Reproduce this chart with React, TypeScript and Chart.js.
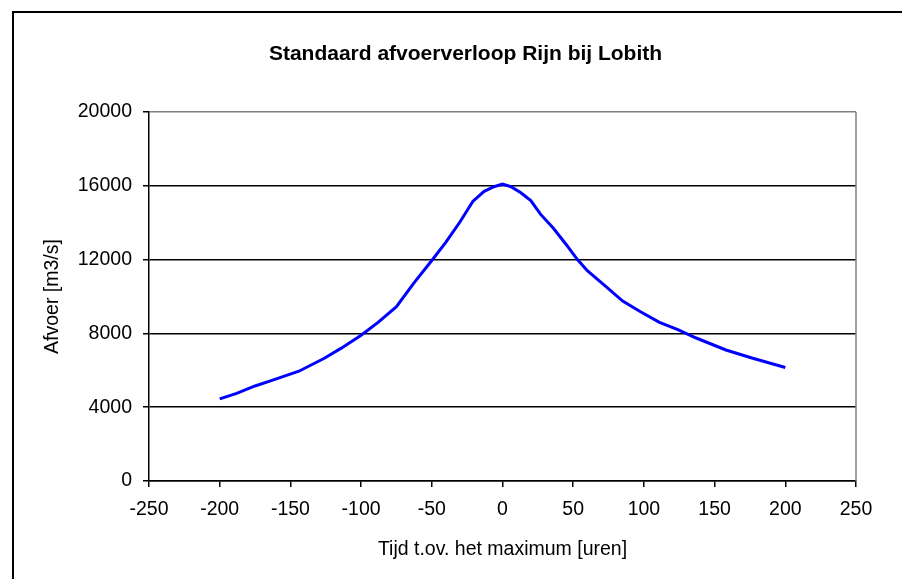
import React, { useEffect, useRef } from "react";
import { Chart, registerables } from "chart.js";

Chart.register(...registerables);

const chartTitle = "Standaard afvoerverloop Rijn bij Lobith";
const xAxisTitle = "Tijd t.ov. het maximum [uren]";
const yAxisTitle = "Afvoer [m3/s]";

// hours relative to the peak
const hours = [
  -200, -188, -175, -162, -144, -126, -114, -100, -88, -75, -63, -50, -40, -30,
  -21, -13, -6, 0, 6, 13, 20, 27, 36, 45, 53, 60, 73, 85, 97, 111, 124, 137,
  158, 177, 200,
];
// discharge in m3/s
const discharge = [
  4450, 4750, 5150, 5480, 5950, 6650, 7200, 7900, 8600, 9450, 10700, 11950,
  12950, 14050, 15150, 15700, 15950, 16100, 15950, 15620, 15200, 14450, 13700,
  12820, 12000, 11400, 10550, 9750, 9200, 8600, 8200, 7750, 7100, 6650, 6150,
];

const xMin = -250;
const xMax = 250;
const xStep = 50;
const yMin = 0;
const yMax = 20000;
const yStep = 4000;

const FONT = "'Liberation Sans', Arial, sans-serif";

export default function App() {
  const canvasRef = useRef<HTMLCanvasElement | null>(null);

  useEffect(() => {
    if (!canvasRef.current) return;

    const framePlugin = {
      id: "framePlugin",
      beforeDraw(chart: any) {
        const { ctx } = chart;
        ctx.save();
        ctx.fillStyle = "#ffffff";
        ctx.fillRect(0, 0, chart.width, chart.height);
        ctx.restore();
      },
      afterDraw(chart: any) {
        const { ctx, chartArea } = chart;
        ctx.save();
        // plot area right border (grey)
        ctx.strokeStyle = "#808080";
        ctx.lineWidth = 1.5;
        ctx.beginPath();
        ctx.moveTo(chartArea.right, chartArea.top);
        ctx.lineTo(chartArea.right, chartArea.bottom);
        ctx.stroke();
        // outer chart frame
        ctx.strokeStyle = "#000000";
        ctx.lineWidth = 2;
        ctx.strokeRect(13, 12, 1000, 1000);
        ctx.restore();
      },
    };

    const chart = new Chart(canvasRef.current, {
      type: "line",
      data: {
        datasets: [
          {
            label: "Afvoer",
            data: hours.map((h, i) => ({ x: h, y: discharge[i] })),
            borderColor: "#0000FF",
            backgroundColor: "#0000FF",
            borderWidth: 3,
            pointRadius: 0,
            tension: 0,
            fill: false,
            yAxisID: "y",
          },
        ],
      },
      options: {
        animation: false,
        responsive: false,
        maintainAspectRatio: false,
        layout: { padding: { left: 29, right: 0, top: 0, bottom: 0 } },
        plugins: {
          legend: { display: false },
          tooltip: { enabled: false },
          title: {
            display: true,
            text: chartTitle,
            color: "#000000",
            font: { family: FONT, size: 21, weight: "bold" },
            padding: { top: 41.4, bottom: 45.4 },
          },
        },
        scales: {
          x: {
            type: "linear",
            min: xMin,
            max: xMax,
            afterFit: (scale: any) => {
              scale.height = 98;
            },
            ticks: {
              stepSize: xStep,
              color: "#000000",
              font: { family: FONT, size: 19.5 },
              padding: 11,
              maxRotation: 0,
              callback: (v: any) => String(v),
            },
            grid: {
              drawOnChartArea: false,
              drawTicks: true,
              tickLength: 6,
              color: "#000000",
              tickColor: "#000000",
              lineWidth: 1.5,
            },
            border: { display: true, color: "#000000", width: 1.5 },
            title: {
              display: true,
              text: xAxisTitle,
              color: "#000000",
              font: { family: FONT, size: 19.5 },
              padding: { top: 0, bottom: 18 },
            },
          },
          y: {
            type: "linear",
            position: "left",
            min: yMin,
            max: yMax,
            afterFit: (scale: any) => {
              scale.width = 120;
            },
            ticks: {
              stepSize: yStep,
              color: "#000000",
              font: { family: FONT, size: 19.5 },
              padding: 11,
              callback: (v: any) => String(v),
            },
            grid: {
              drawTicks: true,
              tickLength: 6,
              color: (ctx: any) =>
                ctx.tick && ctx.tick.value === yMax ? "#808080" : "#000000",
              tickColor: "#000000",
              lineWidth: 1.5,
            },
            border: { display: true, color: "#000000", width: 1.5 },
            title: {
              display: true,
              text: yAxisTitle,
              color: "#000000",
              font: { family: FONT, size: 19.5 },
              padding: { top: 12.3, bottom: 0 },
            },
          },
          yRight: {
            type: "linear",
            position: "right",
            min: yMin,
            max: yMax,
            afterFit: (scale: any) => {
              scale.width = 46;
            },
            ticks: { display: false },
            grid: { display: false, drawTicks: false },
            border: { display: false },
            title: { display: false },
          },
        },
      },
      plugins: [framePlugin],
    });

    return () => {
      chart.destroy();
    };
  }, []);

  return (
    <div
      style={{
        position: "absolute",
        left: 0,
        top: 0,
        width: 902,
        height: 579,
        overflow: "hidden",
        background: "#ffffff",
      }}
    >
      <canvas
        ref={canvasRef}
        width={902}
        height={579}
        style={{ display: "block", width: 902, height: 579 }}
      />
    </div>
  );
}
